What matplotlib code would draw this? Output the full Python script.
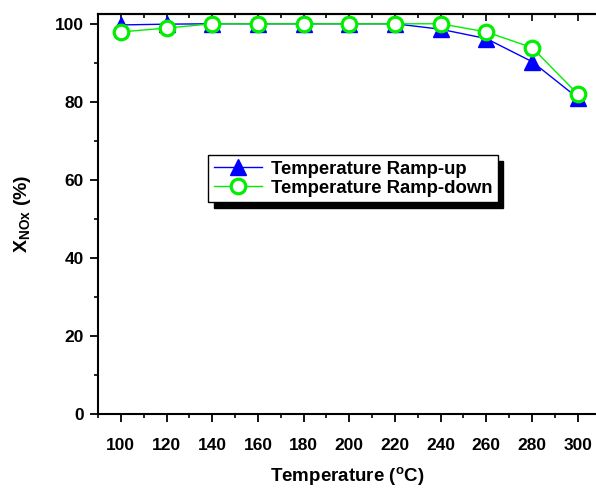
import numpy as np
import matplotlib
matplotlib.use("Agg")
import matplotlib.pyplot as plt
from matplotlib.ticker import MultipleLocator

plt.rcParams['font.family'] = ['Liberation Sans', 'DejaVu Sans']
plt.rcParams['font.weight'] = 'bold'
plt.rcParams['mathtext.fontset'] = 'custom'
plt.rcParams['mathtext.rm'] = 'Liberation Sans:bold'
plt.rcParams['mathtext.bf'] = 'Liberation Sans:bold'

# --- data ---
temps = [100, 120, 140, 160, 180, 200, 220, 240, 260, 280, 300]
ramp_up = [99.7, 99.9, 100, 100, 100, 100, 100, 98.6, 96.2, 90.3, 81.0]
ramp_down = [97.9, 98.9, 100, 100, 100, 100, 100, 100, 97.9, 93.9, 82.0]

fig = plt.figure(figsize=(5.96, 4.90), dpi=100)
ax = fig.add_axes([0.1644, 0.155, 0.8356, 0.8164])

ax.plot(temps, ramp_up, color='blue', lw=1, marker='^', ms=12,
        mfc='blue', mec='blue', label='Temperature Ramp-up')
ax.plot(temps, ramp_down, color='#00ee00', lw=1, marker='o', ms=10.5,
        mfc='white', mec='#00ee00', mew=2.3, label='Temperature Ramp-down')

ax.set_xlim(90, 308)
ax.set_ylim(0, 102.5)
ax.xaxis.set_major_locator(MultipleLocator(20))
ax.xaxis.set_minor_locator(MultipleLocator(10))
ax.yaxis.set_major_locator(MultipleLocator(20))
ax.yaxis.set_minor_locator(MultipleLocator(10))
ax.tick_params(which='major', direction='out', length=6, width=1.3, labelsize=12.5, pad=4)
ax.tick_params(which='minor', direction='out', length=3, width=1.2)
ax.tick_params(axis='x', pad=11)
for lbl in ax.get_xticklabels() + ax.get_yticklabels():
    lbl.set_fontweight('bold')

# top axis ticks pointing inward
top = ax.secondary_xaxis('top')
top.xaxis.set_major_locator(MultipleLocator(20))
top.xaxis.set_minor_locator(MultipleLocator(10))
top.tick_params(which='both', direction='in', labeltop=False, width=1.2)
top.tick_params(which='major', length=5)
top.tick_params(which='minor', length=3)
top.spines['top'].set_linewidth(1.5)

for s in ['left', 'bottom', 'top']:
    ax.spines[s].set_linewidth(1.5)
ax.spines['right'].set_visible(False)

ax.set_xlabel(r'Temperature ($^\mathbf{o}$C)', fontsize=13.5, fontweight='bold', labelpad=9)
ax.set_ylabel(r'$\mathbf{X_{NOx}}$ (%)', fontsize=14, fontweight='bold', labelpad=16)

leg = ax.legend(loc='upper left', bbox_to_anchor=(0.221, 0.6475), borderaxespad=0,
                fontsize=13.3, fancybox=False, edgecolor='black', framealpha=1,
                handlelength=2.6, handletextpad=0.5, borderpad=0.3, labelspacing=0.12,
                shadow={'ox': 4, 'oy': -4, 'facecolor': 'black', 'edgecolor': 'black', 'alpha': 1})
leg.get_frame().set_linewidth(1)
for t in leg.get_texts():
    t.set_fontweight('bold')

fig.savefig('out.png', dpi=100)
